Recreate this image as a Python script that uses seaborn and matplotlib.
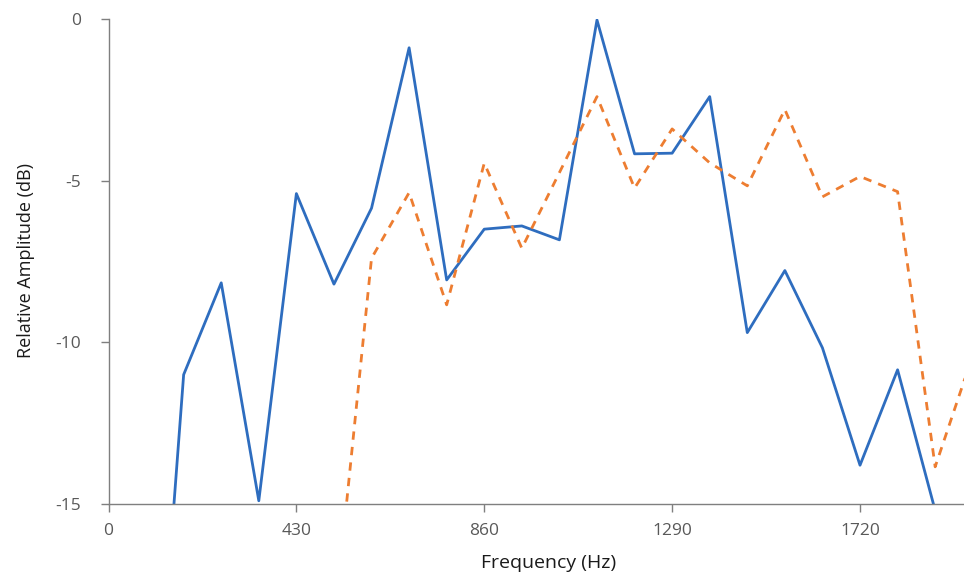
import matplotlib
matplotlib.use("Agg")
import matplotlib.pyplot as plt
import seaborn as sns
import pandas as pd

# Data (frequency bins in Hz, relative amplitude in dB)
freq_blue = [86, 172, 258, 344, 430, 516, 602, 688, 774, 860, 946, 1032,
             1118, 1204, 1290, 1376, 1462, 1548, 1634, 1720, 1806, 1892]
amp_blue = [-26.5, -11.0, -8.16, -14.9, -5.4, -8.2, -5.85, -0.89, -8.07, -6.5,
            -6.4, -6.83, -0.03, -4.17, -4.15, -2.4, -9.7, -7.78, -10.17, -13.8,
            -10.85, -15.2]

freq_orange = [516, 602, 688, 774, 860, 946, 1032, 1118, 1204, 1290, 1376,
               1462, 1548, 1634, 1720, 1806, 1892, 1978]
amp_orange = [-18.8, -7.4, -5.37, -8.84, -4.46, -7.09, -4.75, -2.4, -5.23, -3.4,
              -4.45, -5.16, -2.8, -5.5, -4.87, -5.34, -13.85, -10.4]

x_ticks = [0, 430, 860, 1290, 1720]
y_ticks = [0, -5, -10, -15]

sns.set_theme(style="white")
plt.rcParams["font.family"] = ["Open Sans", "DejaVu Sans"]

fig = plt.figure(figsize=(9.64, 5.78), dpi=100)
ax = fig.add_axes([108.5 / 964, 1 - 504 / 578, 1 - 108.5 / 964, (504 - 19) / 578])

df_b = pd.DataFrame({"f": freq_blue, "a": amp_blue})
df_o = pd.DataFrame({"f": freq_orange, "a": amp_orange})

sns.lineplot(data=df_b, x="f", y="a", ax=ax, color="#2E6DBF", linewidth=2.0)
sns.lineplot(data=df_o, x="f", y="a", ax=ax, color="#ED7D31", linewidth=2.0,
             dashes=False)
ax.lines[-1].set_linestyle((0, (3, 2.6)))

ax.set_xlim(0, 1958)
ax.set_ylim(-15, 0)
ax.set_xticks(x_ticks)
ax.set_yticks(y_ticks)
ax.set_xticklabels([str(t) for t in x_ticks])
ax.set_yticklabels([str(t) for t in y_ticks])

for s in ["top", "right"]:
    ax.spines[s].set_visible(False)
for s in ["left", "bottom"]:
    ax.spines[s].set_color("#7f7f7f")
    ax.spines[s].set_linewidth(1.0)

ax.tick_params(axis="both", which="both", direction="out", length=6, width=1,
               color="#7f7f7f", labelcolor="#595959", labelsize=12.5, pad=8,
               left=True, bottom=True)
ax.tick_params(axis="y", pad=14)

ax.set_xlabel("Frequency (Hz)", fontsize=14, color="#1a1a1a")
ax.set_ylabel("Relative Amplitude (dB)", fontsize=13, color="#1a1a1a")
ax.xaxis.set_label_coords((549 - 108.5) / 855.5, (504 - 554) / 485)
ax.yaxis.set_label_coords((35 - 108.5) / 855.5, (504 - 260) / 485)

fig.savefig("out.png", dpi=100)
